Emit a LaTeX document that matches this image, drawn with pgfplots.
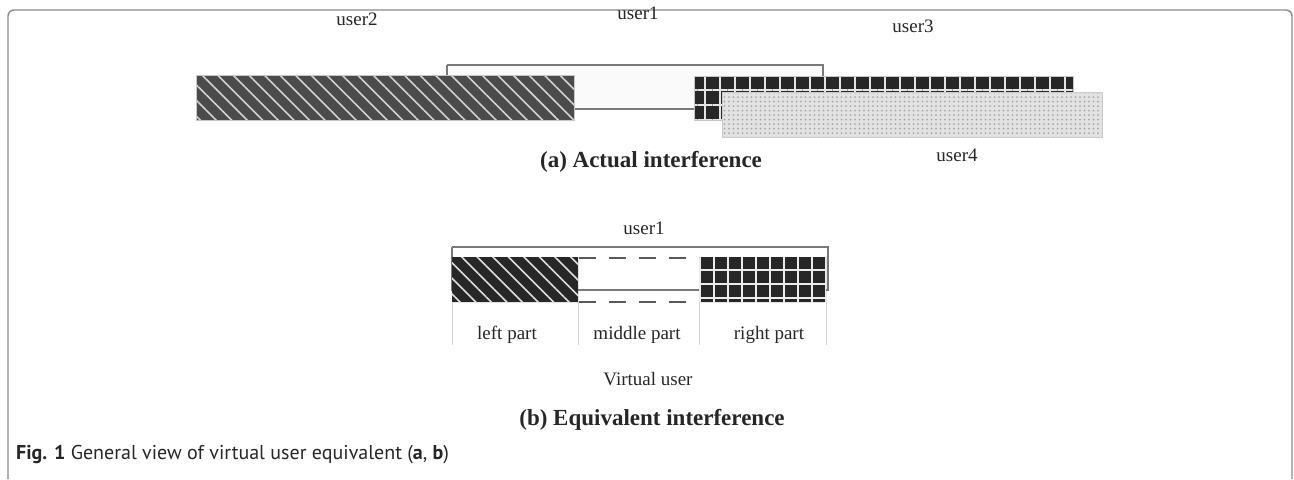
\documentclass[border=0pt]{standalone}
\usepackage{pgfplots}
\pgfplotsset{compat=1.18}
\usepackage{fontspec}
\setmainfont{Liberation Serif}
\newfontfamily\capfont{PT Sans}
\usetikzlibrary{patterns.meta}
\definecolor{frameg}{HTML}{8A8A8A}
\definecolor{txt}{HTML}{262626}
\definecolor{boxg}{HTML}{7A7A7A}
\definecolor{usertwo}{HTML}{4B4B4B}
\definecolor{dark}{HTML}{272727}
\definecolor{dotbg}{HTML}{E2E2E2}
\begin{document}
\begin{tikzpicture}
\begin{axis}[
  at={(0,0)}, anchor=south west,
  scale only axis, width=1294pt, height=479pt,
  xmin=0, xmax=1294, ymin=0, ymax=479, y dir=reverse,
  hide axis, clip=false,
  every axis plot/.append style={mark=none, line join=miter},
]
\path (axis cs:0,0) rectangle (axis cs:1294,479);
% frame
\draw[frameg, line width=1.4pt, rounded corners=6pt]
  (axis cs:8,479) -- (axis cs:8,10) -- (axis cs:1292,10) -- (axis cs:1292,479);

% ---------- (a) Actual interference ----------
% user1 outline
\addplot[draw=boxg, line width=1.2pt, fill=gray!4] coordinates
  {(447,65) (823,65) (823,109) (447,109) (447,65)};
% user2
\addplot[draw=gray!45, line width=1pt, fill=usertwo,
  postaction={pattern={Lines[angle=-45, distance=11pt, line width=1.6pt]}, pattern color=gray!35}]
  coordinates {(196,75) (574,75) (574,120) (196,120) (196,75)};
% user3
\addplot[draw=gray!45, line width=1pt, fill=dark,
  postaction={pattern={Hatch[distance=15pt, line width=2pt]}, pattern color=gray!20}]
  coordinates {(694,76) (1073,76) (1073,120) (694,120) (694,76)};
% user4
\addplot[draw=gray!40, line width=1pt, fill=dotbg,
  postaction={pattern={Dots[distance=4.5pt, radius=1pt]}, pattern color=gray!70}]
  coordinates {(722,92) (1102,92) (1102,137) (722,137) (722,92)};

% ---------- (b) Equivalent interference ----------
\addplot[draw=boxg, line width=1.2pt, fill=white] coordinates
  {(452,247) (828,247) (828,290) (452,290) (452,247)};
% left part
\addplot[draw=none, fill=dark,
  postaction={pattern={Lines[angle=-45, distance=11pt, line width=1.6pt]}, pattern color=gray!25}]
  coordinates {(452,257) (578,257) (578,302) (452,302) (452,257)};
% right part
\addplot[draw=none, fill=dark,
  postaction={pattern={Hatch[distance=14pt, line width=2pt]}, pattern color=gray!15}]
  coordinates {(699,257) (826,257) (826,302) (699,302) (699,257)};
% middle dashed part
\addplot[draw=gray!70!black, line width=2.4pt, dash pattern=on 17pt off 13pt] coordinates
  {(579,258) (699,258)};
\addplot[draw=gray!70!black, line width=2.4pt, dash pattern=on 17pt off 13pt] coordinates
  {(579,302) (699,302)};
% separators
\addplot[draw=gray!35, line width=0.8pt] coordinates {(452,302) (452,345)};
\addplot[draw=gray!35, line width=0.8pt] coordinates {(578,302) (578,345)};
\addplot[draw=gray!35, line width=0.8pt] coordinates {(699,302) (699,345)};
\addplot[draw=gray!35, line width=0.8pt] coordinates {(826,302) (826,345)};

% ---------- texts ----------
\begin{scope}[every node/.style={text=txt, inner sep=0pt, font=\fontsize{19}{22}\selectfont}]
\node at (axis cs:357,19) {user2};
\node at (axis cs:638,13) {user1};
\node at (axis cs:913,26) {user3};
\node at (axis cs:957,155) {user4};
\node[font=\fontsize{23}{27}\selectfont\bfseries] at (axis cs:651,162) {(a) Actual interference};
\node at (axis cs:644,228) {user1};
\node at (axis cs:507,335) {left part};
\node at (axis cs:637,335) {middle part};
\node at (axis cs:769,335) {right part};
\node at (axis cs:648,379) {Virtual user};
\node[font=\fontsize{23}{27}\selectfont\bfseries] at (axis cs:652,420) {(b) Equivalent interference};
\node[anchor=west, font=\capfont\fontsize{20}{24}\selectfont] at (axis cs:16,455) {\textbf{Fig. 1} General view of virtual user equivalent (\textbf{a}, \textbf{b})};
\end{scope}
\end{axis}
\end{tikzpicture}
\end{document}
